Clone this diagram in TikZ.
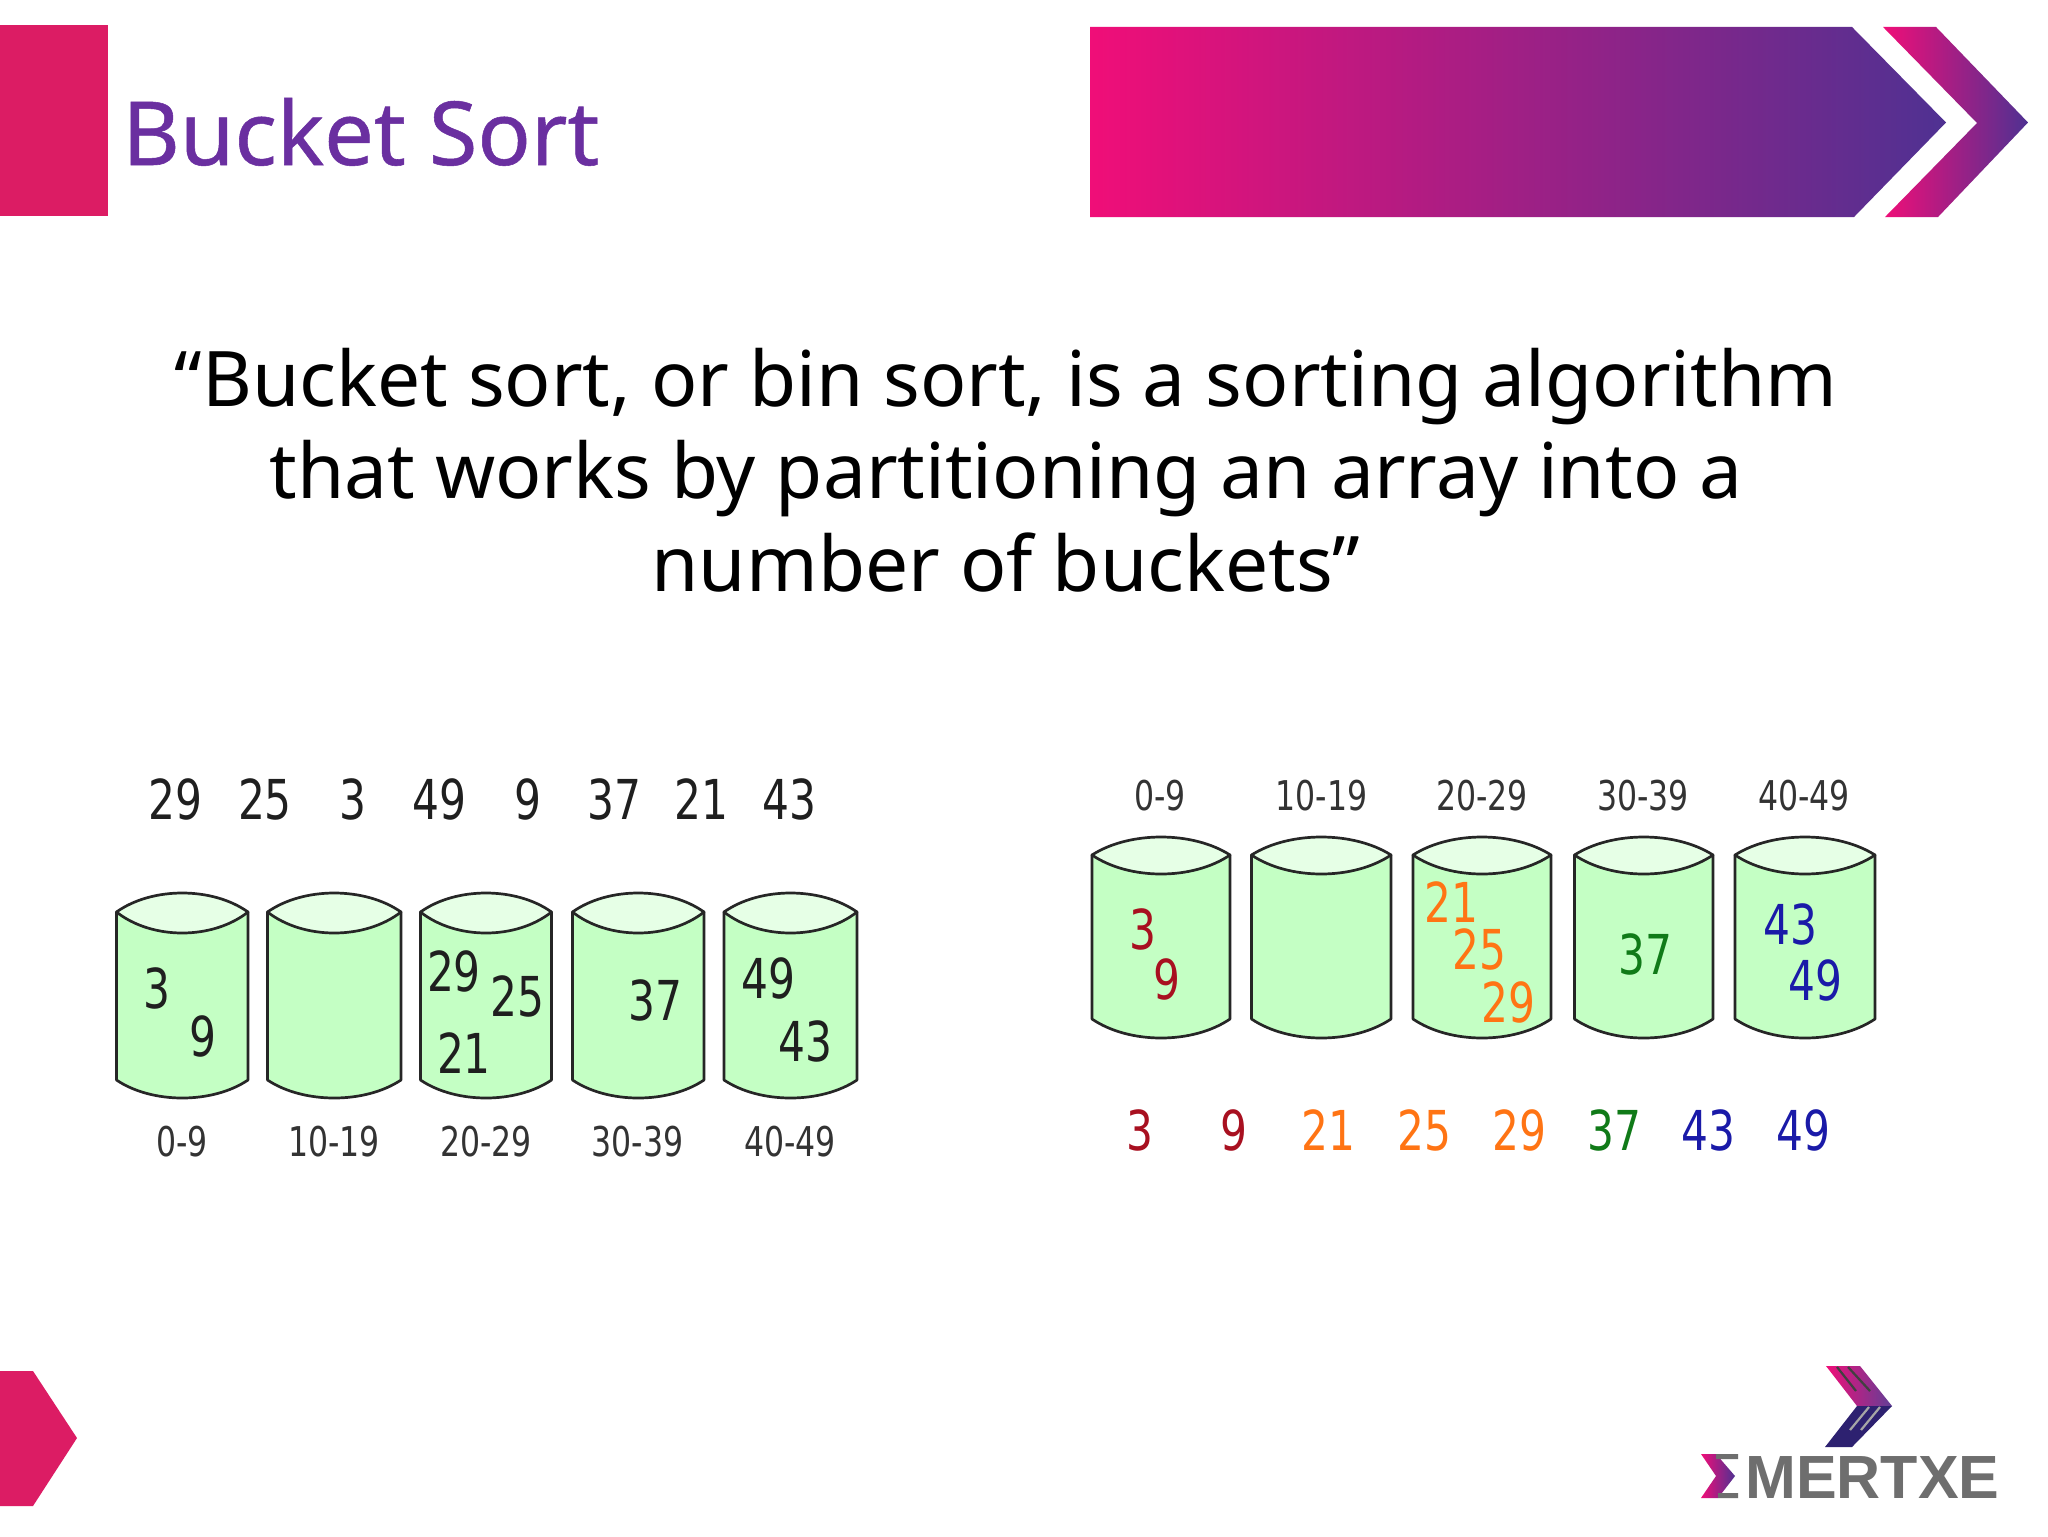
\documentclass[tikz,border=0pt]{standalone}
\usepackage{fontspec}
\setmainfont{Noto Sans}
\newfontfamily\dig[FakeStretch=0.77]{DejaVu Sans}
\newfontfamily\logofont{Liberation Sans}
\definecolor{pinkred}{HTML}{DC1C64}
\definecolor{gpink}{HTML}{F00E78}
\definecolor{gpurple}{HTML}{4F3192}
\definecolor{titlec}{HTML}{6A2FA0}
\definecolor{bfill}{HTML}{C4FFC4}
\definecolor{lidfill}{HTML}{E6FFE6}
\definecolor{cred}{HTML}{A81020}
\definecolor{corange}{HTML}{FF7414}
\definecolor{cgreen}{HTML}{107A18}
\definecolor{cblue}{HTML}{1A1AA8}
\definecolor{logogray}{HTML}{6E6E6E}
\definecolor{logoblue}{HTML}{2D2170}
\tikzset{
  x=0.5pt,y=-0.5pt,
  num/.style={font=\dig\fontsize{27.5}{30}\selectfont,text=#1,inner sep=0pt,anchor=center},
  num/.default={black!88},
  lab/.style={font=\dig\fontsize{20.5}{24}\selectfont,text=black!80,inner sep=0pt,anchor=center},
  bucketline/.style={draw=black!85,line width=1.35pt,line join=round},
}
\newcommand{\bucket}[7]{%
  % x0, x1, top peak, side top, lid bottom, side bottom, bottom peak
  \pgfmathsetmacro{\bw}{(#2-#1)*0.27}
  \pgfmathsetmacro{\cxa}{#1+\bw}
  \pgfmathsetmacro{\cxb}{#2-\bw}
  \pgfmathsetmacro{\ctop}{#4+(#3-#4)*4/3}
  \pgfmathsetmacro{\clid}{#4+(#5-#4)*4/3}
  \pgfmathsetmacro{\cbot}{#6+(#7-#6)*4/3}
  \path[fill=bfill,bucketline] (#1,#4) -- (#1,#6)
    .. controls (\cxa,\cbot) and (\cxb,\cbot) .. (#2,#6) -- (#2,#4) -- cycle;
  \path[fill=lidfill,bucketline] (#1,#4)
    .. controls (\cxa,\ctop) and (\cxb,\ctop) .. (#2,#4)
    .. controls (\cxb,\clid) and (\cxa,\clid) .. cycle;
}
\begin{document}
\begin{tikzpicture}
\useasboundingbox (0,0) rectangle (2048,1536);
\fill[white] (0,0) rectangle (2048,1536);
% header
\fill[pinkred] (0,25) rectangle (108,216);
\node[anchor=base west,inner sep=0pt,text=titlec,font=\fontsize{44.2}{50}\selectfont] (title) at (122,165) {\addfontfeature{FakeBold=0.6}Bucket Sort};
\shade[left color=gpink,right color=gpurple] (1090,27) -- (1852,27) -- (1946,122.5) -- (1854,217) -- (1090,217) -- cycle;
\shade[left color=gpink,right color=gpurple] (1883,27) -- (1936,27) -- (2028,122.5) -- (1938,217) -- (1885,217) -- (1977,123) -- cycle;
% quote
\node[align=center,inner sep=0pt,anchor=center,font=\fontsize{38.35}{46.25}\selectfont,text=black] (quote) at (1006,470)
  {“Bucket sort, or bin sort, is a sorting algorithm\\that works by partitioning an array into a\\number of buckets”};
% left group
\node[num] (a1) at (175.5,799) {29};
\node[num] (a2) at (265,799) {25};
\node[num] (a3) at (353,799) {3};
\node[num] (a4) at (439.5,799) {49};
\node[num] (a5) at (528,799) {9};
\node[num] (a6) at (614.5,799) {37};
\node[num] (a7) at (701,799) {21};
\node[num] (a8) at (789,799) {43};
\bucket{116.5}{248}{893}{912}{933}{1080}{1098}
\bucket{267.5}{401}{893}{912}{933}{1080}{1098}
\bucket{420.5}{551.5}{893}{912}{933}{1080}{1098}
\bucket{572.5}{704}{893}{912}{933}{1080}{1098}
\bucket{724}{857}{893}{912}{933}{1080}{1098}
\node[num] (b1) at (157,988) {3};
\node[num] (b2) at (203,1036) {9};
\node[num] (b3) at (454,971) {29};
\node[num] (b4) at (517.5,996) {25};
\node[num] (b5) at (464,1053) {21};
\node[num] (b6) at (655,1000) {37};
\node[num] (b7) at (768,978) {49};
\node[num] (b8) at (805,1041) {43};
\node[lab] (c1) at (182,1142) {0-9};
\node[lab] (c2) at (334,1142) {10-19};
\node[lab] (c3) at (486,1142) {20-29};
\node[lab] (c4) at (637.5,1142) {30-39};
\node[lab] (c5) at (790,1142) {40-49};
% right group
\node[lab] (d1) at (1160,796) {0-9};
\node[lab] (d2) at (1321.5,796) {10-19};
\node[lab] (d3) at (1482,796) {20-29};
\node[lab] (d4) at (1643,796) {30-39};
\node[lab] (d5) at (1804,796) {40-49};
\bucket{1092}{1230}{837}{855}{874}{1019}{1038}
\bucket{1251.5}{1391}{837}{855}{874}{1019}{1038}
\bucket{1413}{1551}{837}{855}{874}{1019}{1038}
\bucket{1574.5}{1713}{837}{855}{874}{1019}{1038}
\bucket{1735}{1875}{837}{855}{874}{1019}{1038}
\node[num=cred] (e1) at (1142.5,929) {3};
\node[num=cred] (e2) at (1167,979) {9};
\node[num=corange] (e3) at (1451,902) {21};
\node[num=corange] (e4) at (1479,949) {25};
\node[num=corange] (e5) at (1508,1002) {29};
\node[num=cgreen] (e6) at (1645,954) {37};
\node[num=cblue] (e7) at (1790,924) {43};
\node[num=cblue] (e8) at (1815,980) {49};
\node[num=cred] (f1) at (1140,1130) {3};
\node[num=cred] (f2) at (1234,1130) {9};
\node[num=corange] (f3) at (1328,1130) {21};
\node[num=corange] (f4) at (1424,1130) {25};
\node[num=corange] (f5) at (1519,1130) {29};
\node[num=cgreen] (f6) at (1614,1130) {37};
\node[num=cblue] (f7) at (1708,1130) {43};
\node[num=cblue] (f8) at (1803,1130) {49};
% bottom-left tab
\fill[pinkred] (0,1371) -- (33,1371) -- (77,1438) -- (33,1506) -- (0,1506) -- cycle;
% logo
\shade[left color=gpink,right color=gpurple!90!pink] (1826,1366) -- (1860,1366) -- (1892,1406) -- (1857,1406) -- cycle;
\fill[logoblue] (1857,1406) -- (1892,1406) -- (1852,1447) -- (1825,1447) -- cycle;
\draw[black!75,line width=1.1pt] (1837,1367) -- (1856,1391) (1848,1367) -- (1870,1391);
\draw[gray!70,line width=1.1pt] (1869,1407) -- (1850,1430) (1880,1407) -- (1861,1430);
\shade[left color=gpink,right color=gpurple] (1701,1454) -- (1716,1454) -- (1735,1476) -- (1718,1498) -- (1701,1498) -- (1716,1476) -- cycle;
\fill[logogray] (1716,1454) rectangle (1738,1459) (1718,1493) rectangle (1738,1498);
\node[anchor=base west,inner sep=0pt,text=logogray,font=\logofont\bfseries\fontsize{30.5}{32}\selectfont] (logo) at (1745,1498) {MERTXE};
\end{tikzpicture}
\end{document}
